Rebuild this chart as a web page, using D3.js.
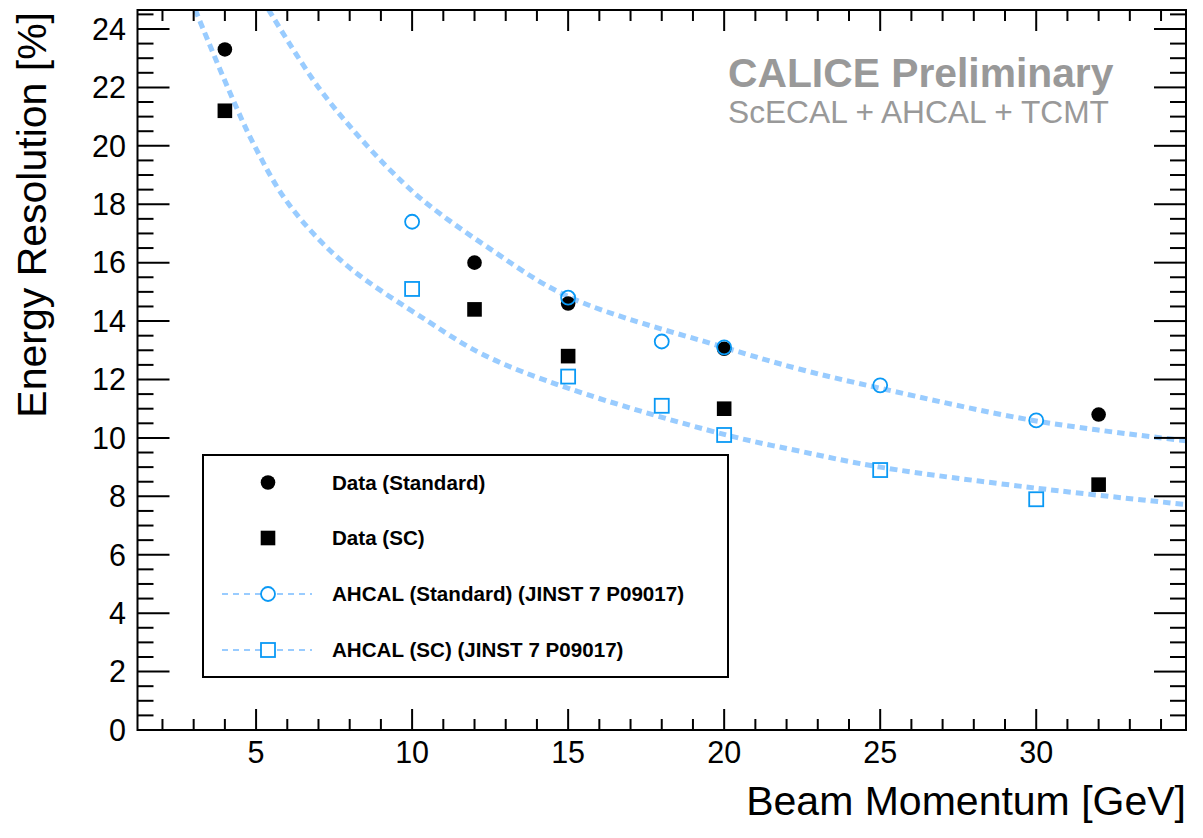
<!DOCTYPE html>
<html><head><meta charset="utf-8">
<script src="https://cdn.jsdelivr.net/npm/d3@7"></script>
<style>
html,body{margin:0;padding:0;background:#fff;}
svg{display:block;font-family:"Liberation Sans",Arial,Helvetica,sans-serif;}
</style></head>
<body>
<svg id="chart" width="1203" height="838"></svg>
<script>
// ---- data ----
const momentumData = [4, 12, 15, 20, 32];
const dataStandard = [23.3, 16.0, 14.6, 13.05, 10.8];
const dataSC = [21.2, 14.4, 12.8, 11.0, 8.4];
const momentumAhcal = [10, 15, 18, 20, 25, 30];
const ahcalStandard = [17.4, 14.8, 13.3, 13.1, 11.8, 10.6];
const ahcalSC = [15.1, 12.1, 11.1, 10.1, 8.9, 7.9];
// fit curves
const curveStdX = [5.4, 7.0, 8.56, 9.7, 10.5, 12.35, 15, 20, 22.4, 25, 30, 34.8];
const curveStdY = [24.66, 22.0, 20.0, 18.75, 18.0, 16.58, 14.84, 13.1, 12.36, 11.70, 10.58, 9.90];
const curveSCX = [3.05, 4.09, 4.95, 6.05, 7.8, 10.5, 12.3, 15, 20, 22.4, 25, 30, 34.8];
const curveSCY = [24.66, 22.0, 20.0, 18.0, 16.0, 14.0, 12.84, 11.7, 10.12, 9.55, 9.0, 8.28, 7.72];
const xMajorTicks = [5, 10, 15, 20, 25, 30];
const yMajorTicks = [0, 2, 4, 6, 8, 10, 12, 14, 16, 18, 20, 22, 24];
const legendLabels = ["Data (Standard)", "Data (SC)", "AHCAL (Standard) (JINST 7 P09017)", "AHCAL (SC) (JINST 7 P09017)"];

// ---- layout ----
const L = 137.5, R = 1186, T = 10, B = 730;
const x = d3.scaleLinear().domain([1.2, 34.8]).range([L, R]);
const y = d3.scaleLinear().domain([0, 24.65]).range([B, T]);
const svg = d3.select("#chart");
const blue = "#0a99f5", light = "#99ccff";

svg.append("defs").append("clipPath").attr("id", "clip")
  .append("rect").attr("x", L).attr("y", T).attr("width", R - L).attr("height", B - T);

// ---- curves ----
const line = d3.line().x(d => x(d[0])).y(d => y(d[1])).curve(d3.curveCatmullRom.alpha(0.5));
const g = svg.append("g").attr("clip-path", "url(#clip)");
[[curveStdX, curveStdY], [curveSCX, curveSCY]].forEach(([xs, ys]) => {
  g.append("path").datum(xs.map((v, i) => [v, ys[i]]))
    .attr("d", line).attr("fill", "none").attr("stroke", light)
    .attr("stroke-width", 5).attr("stroke-dasharray", "7.5,5");
});

// ---- markers ----
const ms = 14.6;
momentumData.forEach((m, i) => {
  g.append("circle").attr("cx", x(m)).attr("cy", y(dataStandard[i])).attr("r", ms / 2).attr("fill", "#000");
  g.append("rect").attr("x", x(m) - ms / 2).attr("y", y(dataSC[i]) - ms / 2)
    .attr("width", ms).attr("height", ms).attr("fill", "#000");
});
momentumAhcal.forEach((m, i) => {
  g.append("circle").attr("cx", x(m)).attr("cy", y(ahcalStandard[i])).attr("r", 7)
    .attr("fill", "none").attr("stroke", blue).attr("stroke-width", 1.8);
  g.append("rect").attr("x", x(m) - 7).attr("y", y(ahcalSC[i]) - 7)
    .attr("width", 14).attr("height", 14).attr("fill", "none").attr("stroke", blue).attr("stroke-width", 1.8);
});

// ---- axes frame & ticks ----
const ax = svg.append("g").attr("stroke", "#000").attr("stroke-width", 2);
const xMinor = d3.range(2, 35, 1);
const yMinor = d3.range(0, 24.6, 0.5);
xMinor.forEach(v => {
  const isMaj = xMajorTicks.includes(v);
  const len = isMaj ? 21 : 11;
  ax.append("line").attr("x1", x(v)).attr("x2", x(v)).attr("y1", B).attr("y2", B - len);
  ax.append("line").attr("x1", x(v)).attr("x2", x(v)).attr("y1", T).attr("y2", T + len);
});
yMinor.forEach(v => {
  const isMaj = yMajorTicks.includes(v);
  const len = isMaj ? 32 : 16;
  ax.append("line").attr("x1", L).attr("x2", L + len).attr("y1", y(v)).attr("y2", y(v));
  ax.append("line").attr("x1", R).attr("x2", R - len).attr("y1", y(v)).attr("y2", y(v));
});
ax.append("rect").attr("x", L).attr("y", T).attr("width", R - L).attr("height", B - T).attr("fill", "none");

// tick labels
xMajorTicks.forEach(v => {
  svg.append("text").attr("x", x(v)).attr("y", 763).attr("text-anchor", "middle")
    .attr("font-size", 30.5).text(v);
});
yMajorTicks.forEach(v => {
  svg.append("text").attr("x", 126).attr("y", y(v) + 10.8).attr("text-anchor", "end")
    .attr("font-size", 30.5).text(v);
});

// axis titles
svg.append("text").attr("x", 1186).attr("y", 815).attr("text-anchor", "end")
  .attr("font-size", 41).text("Beam Momentum [GeV]");
svg.append("text").attr("transform", "translate(46,12) rotate(-90)").attr("text-anchor", "end")
  .attr("font-size", 41).text("Energy Resolution [%]");

// CALICE label
svg.append("text").attr("x", 728).attr("y", 87).attr("font-size", 40.8).attr("font-weight", "bold")
  .attr("fill", "#999999").text("CALICE Preliminary");
svg.append("text").attr("x", 728).attr("y", 122.5).attr("font-size", 31.7)
  .attr("fill", "#999999").text("ScECAL + AHCAL + TCMT");

// ---- legend ----
const lg = svg.append("g");
lg.append("rect").attr("x", 203).attr("y", 455).attr("width", 525).attr("height", 222)
  .attr("fill", "#fff").attr("stroke", "#000").attr("stroke-width", 2);
const rowY = [482.5, 538, 594, 650];
const mx = 268, tx = 332;
rowY.forEach((ry, i) => {
  if (i >= 2) {
    lg.append("line").attr("x1", 222).attr("x2", 312).attr("y1", ry).attr("y2", ry)
      .attr("stroke", light).attr("stroke-width", 2).attr("stroke-dasharray", "6,5");
  }
  if (i === 0) lg.append("circle").attr("cx", mx).attr("cy", ry).attr("r", ms / 2).attr("fill", "#000");
  if (i === 1) lg.append("rect").attr("x", mx - ms / 2).attr("y", ry - ms / 2).attr("width", ms).attr("height", ms).attr("fill", "#000");
  if (i === 2) lg.append("circle").attr("cx", mx).attr("cy", ry).attr("r", 7).attr("fill", "#fff").attr("stroke", blue).attr("stroke-width", 1.8);
  if (i === 3) lg.append("rect").attr("x", mx - 7).attr("y", ry - 7).attr("width", 14).attr("height", 14).attr("fill", "#fff").attr("stroke", blue).attr("stroke-width", 1.8);
  lg.append("text").attr("x", tx).attr("y", ry + 7.3).attr("font-size", 20.6).attr("font-weight", "bold").text(legendLabels[i]);
});
</script>
</body></html>
